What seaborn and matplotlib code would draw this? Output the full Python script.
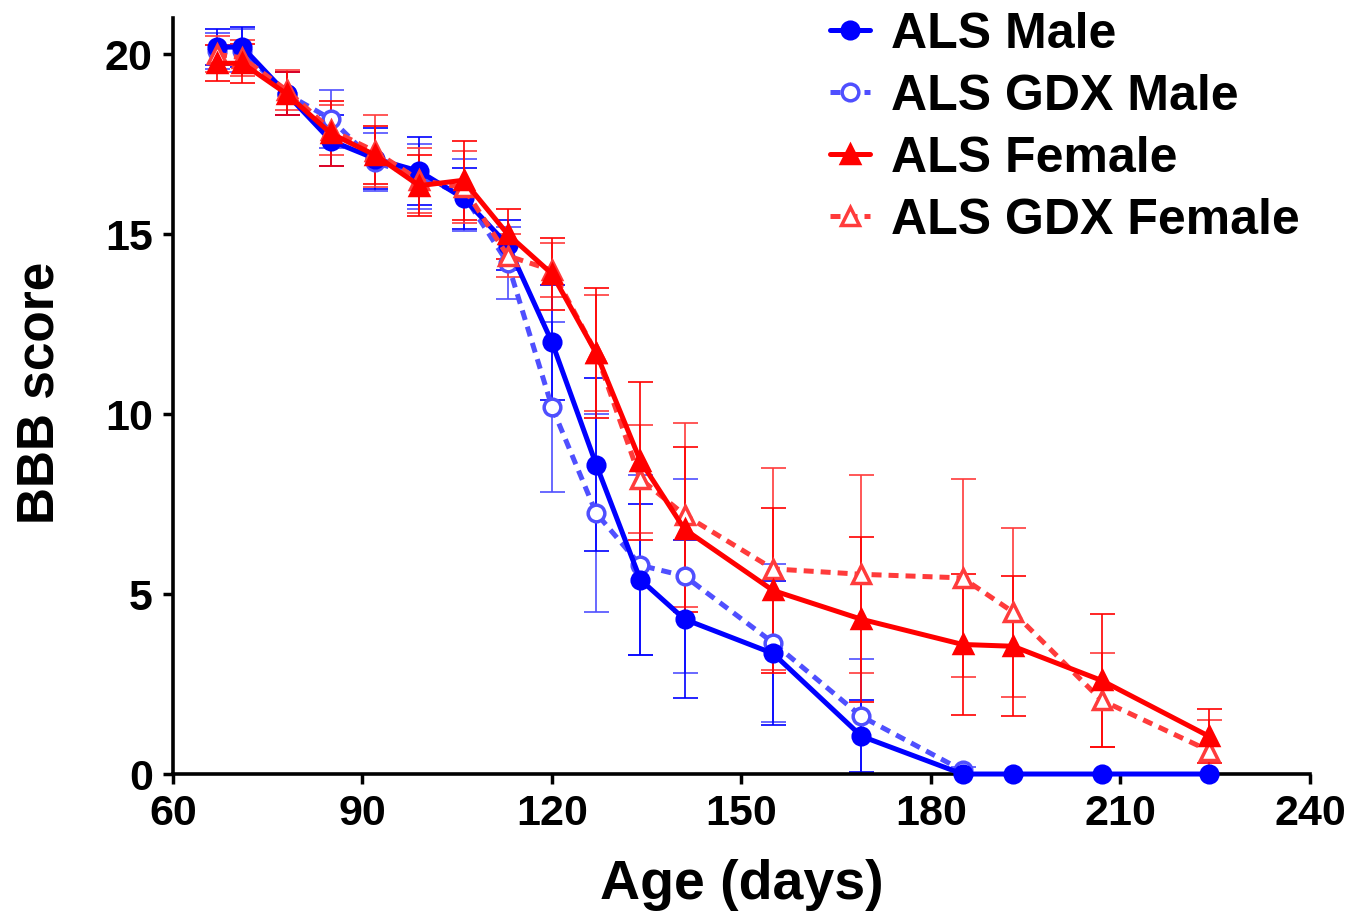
import numpy as np
import pandas as pd
import matplotlib
matplotlib.use("Agg")
import matplotlib.pyplot as plt
import seaborn as sns

# age (days) at each assessment
days = [67, 71, 78, 85, 92, 99, 106, 113, 120, 127, 134, 141, 155, 169, 185, 193, 207, 224]
days_gdx_male = days[:15]

# BBB score means and SEMs
male = [20.2, 20.2, 18.9, 17.6, 17.1, 16.75, 16.0, 14.7, 12.0, 8.6, 5.4, 4.3, 3.35, 1.05, 0, 0, 0, 0]
male_sem = [0.5, 0.55, 0.6, 0.7, 0.85, 0.95, 0.85, 0.7, 1.6, 2.4, 2.1, 2.2, 2.0, 1.0, 0, 0, 0, 0]

gdx_male = [20.1, 20.1, 18.9, 18.2, 17.0, 16.6, 16.1, 14.2, 10.2, 7.25, 5.8, 5.5, 3.65, 1.6, 0.1]
gdx_male_sem = [0.5, 0.6, 0.6, 0.8, 0.8, 0.9, 1.0, 1.0, 2.35, 2.75, 2.5, 2.7, 2.2, 1.6, 0.1]

female = [19.75, 19.75, 18.9, 17.8, 17.2, 16.35, 16.5, 15.0, 13.9, 11.7, 8.7, 6.8, 5.1, 4.3, 3.6, 3.55, 2.6, 1.05]
female_sem = [0.5, 0.55, 0.6, 0.9, 0.8, 0.85, 1.1, 0.7, 1.0, 1.8, 2.2, 2.3, 2.3, 2.3, 1.95, 1.95, 1.85, 0.75]

gdx_female = [20.0, 19.9, 19.0, 17.9, 17.3, 16.5, 16.3, 14.4, 14.0, 11.7, 8.2, 7.2, 5.7, 5.55, 5.45, 4.5, 2.05, 0.65]
gdx_female_sem = [0.5, 0.5, 0.55, 0.7, 1.0, 0.9, 1.0, 0.6, 0.75, 1.6, 1.5, 2.55, 2.8, 2.75, 2.75, 2.35, 1.3, 0.85]

x_ticks = [60, 90, 120, 150, 180, 210, 240]
y_ticks = [0, 5, 10, 15, 20]

sns.set_style("ticks")
plt.rcParams["font.family"] = ["Liberation Sans", "DejaVu Sans"]
plt.rcParams["font.weight"] = "bold"
for k in ["text.color", "axes.labelcolor", "xtick.color", "ytick.color", "axes.edgecolor"]:
    plt.rcParams[k] = "black"

fig = plt.figure(figsize=(13.65, 9.16), dpi=100)
ax = fig.add_axes([0.1267, 0.155, 0.833, 0.825])

series = [
    # label, x, y, err, colour, marker, open, dashed
    ("ALS GDX Male", days_gdx_male, gdx_male, gdx_male_sem, "#4f4fff", "o", True, True),
    ("ALS Male", days, male, male_sem, "#0000ff", "o", False, False),
    ("ALS GDX Female", days, gdx_female, gdx_female_sem, "#ff3b3b", "^", True, True),
    ("ALS Female", days, female, female_sem, "#ff0000", "^", False, False),
]

handles = {}
for label, x, y, err, c, m, hollow, dashed in series:
    ax.errorbar(x, y, yerr=err, fmt="none", ecolor=c, elinewidth=1.2,
                capsize=9, capthick=1.2, zorder=2)
    df = pd.DataFrame({"day": x, "score": y})
    sns.lineplot(data=df, x="day", y="score", ax=ax, color=c, marker=m,
                 markersize=12 if m == "o" else 13, linewidth=3.6,
                 mfc="white" if hollow else c, mec=c, mew=2.5,
                 label=label, zorder=3, clip_on=False)
    line = ax.lines[-1]
    if dashed:
        line.set_dashes([2.0, 1.4])
    handles[label] = line

ax.set_xlim(60, 240)
ax.set_ylim(0, 21)
ax.set_xticks(x_ticks)
ax.set_yticks(y_ticks)
ax.tick_params(width=2.5, length=7.5, direction="out", pad=7)
tick_font = {"weight": "bold", "size": 31}
ax.set_xticklabels([str(t) for t in x_ticks], fontdict=tick_font)
ax.set_yticklabels([str(t) for t in y_ticks], fontdict=tick_font)
sns.despine(ax=ax)
for s in ["left", "bottom"]:
    ax.spines[s].set_linewidth(2.6)

ax.set_xlabel("Age (days)", fontsize=40, fontweight="bold")
ax.set_ylabel("BBB score", fontsize=37, fontweight="bold")
ax.xaxis.set_label_coords(0.5, -0.113)
ax.yaxis.set_label_coords(-0.095, 0.505)

order = ["ALS Male", "ALS GDX Male", "ALS Female", "ALS GDX Female"]
ax.legend([handles[k] for k in order], order, loc="upper right",
          bbox_to_anchor=(0.967, 1.009), bbox_transform=fig.transFigure,
          frameon=False, prop={"size": 36, "weight": "bold"},
          handlelength=0.8, handletextpad=0.42, labelspacing=0.32,
          borderaxespad=0.0)

fig.savefig("out.png", dpi=100)
